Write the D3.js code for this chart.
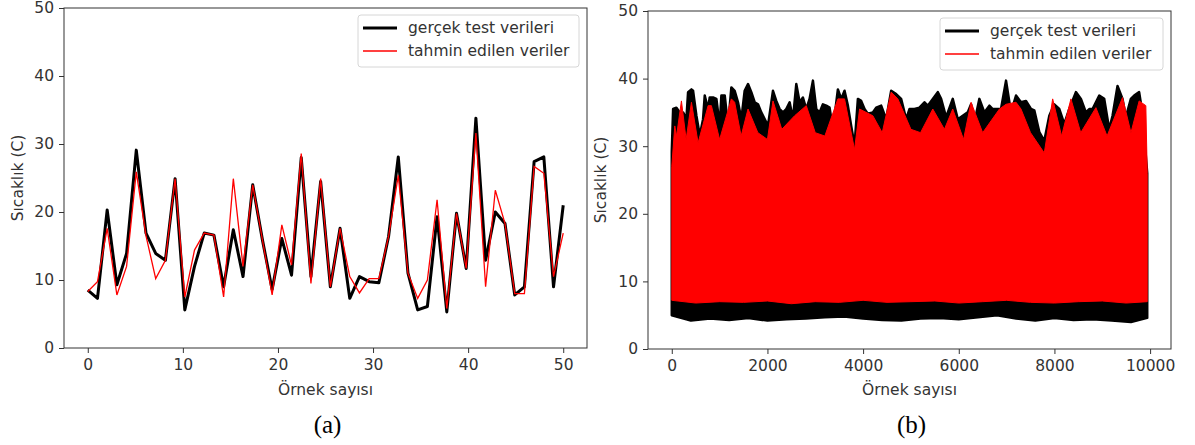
<!DOCTYPE html>
<html>
<head>
<meta charset="utf-8">
<script src="https://cdn.jsdelivr.net/npm/d3@7"></script>
<style>
  body { margin: 0; background: #fff; }
  svg text { font-family: "DejaVu Sans", sans-serif; }
  svg text.caption { font-family: "Liberation Serif", "Times New Roman", serif; }
</style>
</head>
<body>
<svg id="chart" width="1195" height="445"></svg>
<script>
// (a) 50 test samples, actual vs predicted temperature
const sampleBlack = [8.5, 7.3, 20.3, 9.3, 13.9, 29.1, 16.9, 13.9, 12.9, 24.9,
  5.6, 12.0, 16.9, 16.6, 9.0, 17.4, 10.5, 24.0, 15.9, 8.6,
  16.1, 10.7, 28.0, 10.5, 24.5, 9.0, 17.6, 7.3, 10.5, 9.75,
  9.6, 16.4, 28.1, 11.0, 5.6, 6.1, 19.3, 5.3, 19.8, 11.7,
  33.8, 12.9, 20.0, 18.3, 7.8, 9.0, 27.4, 28.1, 9.0, 21.0]
const sampleRed = [8.3, 9.75, 17.6, 7.8, 12.0, 25.9, 16.5, 10.2, 12.9, 24.9,
  7.5, 14.4, 16.9, 16.6, 7.5, 24.9, 12.0, 24.0, 15.9, 7.8,
  18.1, 12.2, 28.6, 9.5, 24.9, 9.0, 17.6, 10.5, 8.1, 10.2,
  10.2, 16.4, 25.4, 11.0, 7.3, 10.0, 21.8, 5.8, 19.8, 11.7,
  31.6, 9.0, 23.2, 18.3, 8.0, 8.0, 26.7, 25.7, 10.5, 16.9]
const sampleXmax = 50

// (b) full test set (~9940 samples): envelopes
const fullLast = 9940
const blackTopIdx = [0, 28, 97, 167, 202, 237, 306, 341, 411, 445, 515, 585, 654, 689, 759, 793, 863, 933, 1002, 1037,
  1107, 1176, 1246, 1315, 1385, 1455, 1524, 1594, 1663, 1733, 1803, 1872, 1942, 2011, 2116, 2185, 2255, 2325, 2394, 2464,
  2533, 2603, 2673, 2742, 2812, 2881, 2951, 3021, 3090, 3160, 3229, 3299, 3369, 3473, 3543, 3612, 3682, 3751, 3821, 3891,
  3960, 4030, 4099, 4204, 4273, 4378, 4482, 4587, 4691, 4795, 4900, 4969, 5074, 5178, 5283, 5352, 5457, 5561, 5631, 5735,
  5874, 5979, 6083, 6187, 6257, 6327, 6431, 6535, 6640, 6709, 6779, 6883, 6988, 7092, 7197, 7301, 7405, 7510, 7579, 7684,
  7788, 7893, 7997, 8101, 8206, 8310, 8449, 8554, 8658, 8728, 8797, 8937, 9041, 9145, 9215, 9319, 9424, 9493, 9598, 9667,
  9771, 9841, 9940]
const blackTopVal = [29.2, 35.5, 35.7, 35.0, 32.1, 35.0, 34.0, 38.0, 38.4, 38.2, 34.5, 31.6, 34.0, 37.5, 35.5, 37.2, 37.2, 37.0, 33.0, 37.5,
  37.5, 33.0, 38.7, 38.2, 36.5, 34.0, 38.2, 39.2, 38.0, 36.5, 36.2, 35.0, 34.0, 33.0, 38.2, 36.7, 35.5, 35.0, 35.5, 36.5,
  34.0, 39.2, 36.5, 37.2, 35.5, 37.0, 39.7, 35.5, 35.0, 36.2, 36.0, 35.7, 32.5, 38.4, 37.0, 38.2, 36.0, 33.0, 30.1, 37.0,
  36.7, 35.5, 34.8, 35.0, 35.7, 36.0, 34.0, 38.2, 37.7, 37.0, 34.0, 35.5, 35.5, 35.7, 36.5, 36.0, 37.0, 38.0, 37.0, 34.3,
  37.0, 34.0, 34.5, 35.0, 36.2, 33.5, 37.0, 35.0, 36.0, 35.5, 35.5, 35.5, 39.7, 35.0, 37.5, 36.5, 36.7, 35.5, 35.3, 32.1,
  30.8, 34.5, 36.2, 35.5, 33.3, 35.5, 38.0, 37.0, 35.0, 35.5, 35.5, 37.5, 37.0, 32.5, 34.5, 38.9, 37.0, 34.3, 37.0, 37.5,
  38.0, 34.8, 26.0]
const redTopIdx = [0, 63, 100, 202, 300, 411, 550, 760, 828, 1000, 1246, 1315, 1450, 1594, 1800, 2000, 2116, 2300, 2568, 2812,
  3000, 3200, 3473, 3612, 3821, 3926, 4204, 4400, 4587, 4726, 5000, 5200, 5457, 5700, 5874, 6100, 6257, 6500, 6850, 6988,
  7197, 7301, 7500, 7788, 7963, 8150, 8345, 8550, 8867, 9100, 9424, 9600, 9771, 9911, 9940]
const redTopVal = [27.0, 33.0, 31.5, 36.7, 31.0, 36.5, 30.5, 36.0, 36.0, 31.0, 37.0, 36.5, 31.5, 35.5, 32.0, 31.0, 36.7, 32.5, 34.5, 36.0,
  32.0, 31.5, 37.0, 37.0, 29.5, 35.5, 34.5, 32.0, 38.0, 37.0, 32.5, 32.0, 35.5, 32.5, 35.5, 31.0, 36.5, 32.0, 35.5, 36.2,
  36.5, 35.5, 32.0, 29.0, 37.0, 31.5, 37.0, 32.0, 35.7, 31.5, 37.2, 32.0, 36.7, 36.0, 26.0]
const blackLowIdx = [0, 400, 800, 1200, 1600, 2000, 2400, 2800, 3200, 3600, 4000, 4400, 4800, 5200, 5600, 6000, 6400, 6800, 7200, 7600,
  8000, 8400, 8800, 9200, 9600, 9940]
const blackLowVal = [5.0, 4.2, 4.5, 4.3, 4.6, 4.2, 4.4, 4.5, 4.7, 4.8, 4.5, 4.3, 4.2, 4.5, 4.6, 4.4, 4.7, 5.0, 4.5, 4.2,
  4.6, 4.3, 4.4, 4.2, 4.0, 4.6]
const redLowIdx = [0, 500, 1000, 1500, 2000, 2500, 3000, 3500, 4000, 4500, 5000, 5500, 6000, 6500, 7000, 7500, 8000, 8500, 9000, 9500, 9940]
const redLowVal = [7.2, 6.8, 7.0, 6.9, 7.1, 6.7, 7.0, 6.9, 7.2, 6.9, 7.0, 7.1, 6.8, 7.0, 7.2, 6.9, 6.8, 7.0, 7.1, 6.8, 7.0]

const yTicks = [0, 10, 20, 30, 40, 50]
const xTicksA = [0, 10, 20, 30, 40, 50]
const xTicksB = [0, 2000, 4000, 6000, 8000, 10000]
const legendLabels = ["gerçek test verileri", "tahmin edilen veriler"]

const svg = d3.select("#chart")
const fontSize = 15.5

function drawFrame(box, xScale, yScale, xTicks, caption) {
    const g = svg.append("g")
    // ticks + labels
    const yAxis = d3.axisLeft(yScale).tickValues(yTicks).tickSize(5).tickPadding(5)
    const xAxis = d3.axisBottom(xScale).tickValues(xTicks).tickSize(5).tickPadding(6).tickFormat(d3.format("d"))
    const ya = g.append("g").attr("transform", "translate(" + box.x0 + ",0)").call(yAxis)
    const xa = g.append("g").attr("transform", "translate(0," + box.y1 + ")").call(xAxis)
    ;[ya, xa].forEach(function(a) {
        a.select(".domain").remove()
        a.selectAll("line").attr("stroke", "#333")
        a.selectAll("text").attr("font-size", fontSize).attr("fill", "#333")
    })
    // spines
    g.append("rect")
        .attr("x", box.x0).attr("y", box.y0)
        .attr("width", box.x1 - box.x0).attr("height", box.y1 - box.y0)
        .attr("fill", "none").attr("stroke", "#333").attr("stroke-width", 1)
    g.append("text")
        .attr("x", (box.x0 + box.x1) / 2).attr("y", 395)
        .attr("text-anchor", "middle").attr("font-size", fontSize).attr("fill", "#333")
        .text("Örnek sayısı")
    g.append("text")
        .attr("transform", "translate(" + box.ylab + "," + (box.y0 + box.y1) / 2 + ") rotate(-90)")
        .attr("text-anchor", "middle").attr("dominant-baseline", "central")
        .attr("font-size", fontSize).attr("fill", "#333")
        .text("Sıcaklık (C)")
    g.append("text")
        .attr("class", "caption")
        .attr("x", (box.x0 + box.x1) / 2 + 2).attr("y", 433)
        .attr("text-anchor", "middle").attr("font-size", 25).attr("fill", "#000")
        .text(caption)
}

function drawLegend(box, lx, lw) {
    const top = box.y0 + 7
    const g = svg.append("g")
    g.append("rect")
        .attr("x", lx).attr("y", top).attr("width", lw).attr("height", 52)
        .attr("rx", 3).attr("fill", "#fff").attr("fill-opacity", 0.85)
        .attr("stroke", "#d6d6d6").attr("stroke-width", 1)
    legendLabels.forEach(function(label, i) {
        const cy = top + 13 + i * 23
        g.append("line")
            .attr("x1", lx + 5).attr("x2", lx + 39).attr("y1", cy).attr("y2", cy)
            .attr("stroke", i == 0 ? "#000" : "#f00").attr("stroke-width", i == 0 ? 3 : 1.3)
        g.append("text")
            .attr("x", lx + 50).attr("y", cy).attr("dominant-baseline", "central")
            .attr("font-size", fontSize).attr("fill", "#333")
            .text(label)
    })
}

// ---------- (a)
const boxA = {x0: 64, x1: 587, y0: 8, y1: 348, ylab: 18}
const xA = d3.scaleLinear().domain([-0.05 * sampleXmax, 1.05 * sampleXmax]).range([boxA.x0, boxA.x1])
const yA = d3.scaleLinear().domain([0, 50]).range([boxA.y1, boxA.y0])
// the 50 samples are spread evenly over 0..50 on the axis
const stepA = sampleXmax / (sampleBlack.length - 1)
const lineA = d3.line().x(function(d, i) { return xA(i * stepA) }).y(function(d) { return yA(d) })

drawFrame(boxA, xA, yA, xTicksA, "(a)")
svg.append("path").datum(sampleBlack).attr("d", lineA)
    .attr("fill", "none").attr("stroke", "#000").attr("stroke-width", 3).attr("stroke-linejoin", "round")
svg.append("path").datum(sampleRed).attr("d", lineA)
    .attr("fill", "none").attr("stroke", "#f00").attr("stroke-width", 1.3)
drawLegend(boxA, 358, 221)

// ---------- (b)
const boxB = {x0: 648, x1: 1171, y0: 11, y1: 349, ylab: 601}
const xB = d3.scaleLinear().domain([-0.05 * fullLast, 1.05 * fullLast]).range([boxB.x0, boxB.x1])
const yB = d3.scaleLinear().domain([0, 50]).range([boxB.y1, boxB.y0])

function envelope(topIdx, topVal, lowIdx, lowVal) {
    const top = topIdx.map(function(s, i) { return [xB(s), yB(topVal[i])] })
    const low = lowIdx.map(function(s, i) { return [xB(s), yB(lowVal[i])] }).reverse()
    return d3.line()(top.concat(low)) + "Z"
}

drawFrame(boxB, xB, yB, xTicksB, "(b)")
svg.append("path").attr("d", envelope(blackTopIdx, blackTopVal, blackLowIdx, blackLowVal))
    .attr("fill", "#000").attr("stroke", "#000").attr("stroke-width", 2.5).attr("stroke-linejoin", "round")
svg.append("path").attr("d", envelope(redTopIdx, redTopVal, redLowIdx, redLowVal))
    .attr("fill", "#f00").attr("stroke", "#f00").attr("stroke-width", 1)
drawLegend(boxB, 940, 223)
</script>
</body>
</html>
